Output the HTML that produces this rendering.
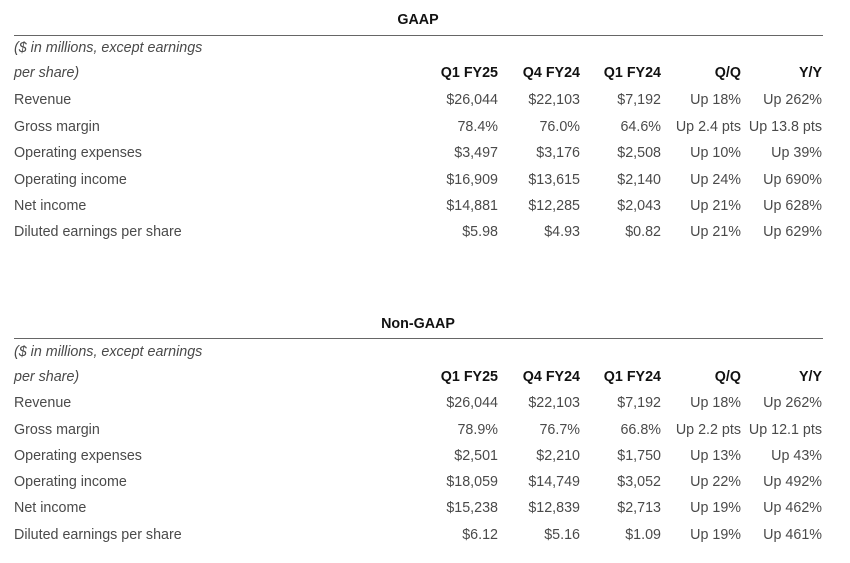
<!DOCTYPE html>
<html><head><meta charset="utf-8"><style>
body{margin:0;width:850px;height:563px;background:#fff;position:relative;font-family:"Liberation Sans",sans-serif;font-size:14.3px;color:#4a4a4a;overflow:hidden}
div{position:absolute;line-height:20px;white-space:nowrap}
.t{font-weight:bold;color:#111;left:0;width:836px;text-align:center}
.hr{left:14px;width:809px;height:0;border-top:1.5px solid #666}
.i{font-style:italic;left:14px}
.l{left:14px}
.h{font-weight:bold;color:#111}
.a{right:352px}.b{right:270px}.c{right:189px}.d{right:109px}.e{right:28px}
</style></head><body>
<div class="t" style="top:10px">GAAP</div>
<div class="hr" style="top:35px"></div>
<div class="i" style="top:38px">($ in millions, except earnings</div>
<div class="i" style="top:63px">per share)</div>
<div class="h a" style="top:63px">Q1 FY25</div><div class="h b" style="top:63px">Q4 FY24</div><div class="h c" style="top:63px">Q1 FY24</div><div class="h d" style="top:63px">Q/Q</div><div class="h e" style="top:63px">Y/Y</div>

<div class="l" style="top:90px">Revenue</div><div class="a" style="top:90px">$26,044</div><div class="b" style="top:90px">$22,103</div><div class="c" style="top:90px">$7,192</div><div class="d" style="top:90px">Up 18%</div><div class="e" style="top:90px">Up 262%</div>
<div class="l" style="top:117px">Gross margin</div><div class="a" style="top:117px">78.4%</div><div class="b" style="top:117px">76.0%</div><div class="c" style="top:117px">64.6%</div><div class="d" style="top:117px">Up 2.4 pts</div><div class="e" style="top:117px">Up 13.8 pts</div>
<div class="l" style="top:143px">Operating expenses</div><div class="a" style="top:143px">$3,497</div><div class="b" style="top:143px">$3,176</div><div class="c" style="top:143px">$2,508</div><div class="d" style="top:143px">Up 10%</div><div class="e" style="top:143px">Up 39%</div>
<div class="l" style="top:170px">Operating income</div><div class="a" style="top:170px">$16,909</div><div class="b" style="top:170px">$13,615</div><div class="c" style="top:170px">$2,140</div><div class="d" style="top:170px">Up 24%</div><div class="e" style="top:170px">Up 690%</div>
<div class="l" style="top:196px">Net income</div><div class="a" style="top:196px">$14,881</div><div class="b" style="top:196px">$12,285</div><div class="c" style="top:196px">$2,043</div><div class="d" style="top:196px">Up 21%</div><div class="e" style="top:196px">Up 628%</div>
<div class="l" style="top:222px">Diluted earnings per share</div><div class="a" style="top:222px">$5.98</div><div class="b" style="top:222px">$4.93</div><div class="c" style="top:222px">$0.82</div><div class="d" style="top:222px">Up 21%</div><div class="e" style="top:222px">Up 629%</div>

<div class="t" style="top:314px">Non-GAAP</div>
<div class="hr" style="top:338px"></div>
<div class="i" style="top:342px">($ in millions, except earnings</div>
<div class="i" style="top:367px">per share)</div>
<div class="h a" style="top:367px">Q1 FY25</div><div class="h b" style="top:367px">Q4 FY24</div><div class="h c" style="top:367px">Q1 FY24</div><div class="h d" style="top:367px">Q/Q</div><div class="h e" style="top:367px">Y/Y</div>

<div class="l" style="top:393px">Revenue</div><div class="a" style="top:393px">$26,044</div><div class="b" style="top:393px">$22,103</div><div class="c" style="top:393px">$7,192</div><div class="d" style="top:393px">Up 18%</div><div class="e" style="top:393px">Up 262%</div>
<div class="l" style="top:420px">Gross margin</div><div class="a" style="top:420px">78.9%</div><div class="b" style="top:420px">76.7%</div><div class="c" style="top:420px">66.8%</div><div class="d" style="top:420px">Up 2.2 pts</div><div class="e" style="top:420px">Up 12.1 pts</div>
<div class="l" style="top:446px">Operating expenses</div><div class="a" style="top:446px">$2,501</div><div class="b" style="top:446px">$2,210</div><div class="c" style="top:446px">$1,750</div><div class="d" style="top:446px">Up 13%</div><div class="e" style="top:446px">Up 43%</div>
<div class="l" style="top:472px">Operating income</div><div class="a" style="top:472px">$18,059</div><div class="b" style="top:472px">$14,749</div><div class="c" style="top:472px">$3,052</div><div class="d" style="top:472px">Up 22%</div><div class="e" style="top:472px">Up 492%</div>
<div class="l" style="top:498px">Net income</div><div class="a" style="top:498px">$15,238</div><div class="b" style="top:498px">$12,839</div><div class="c" style="top:498px">$2,713</div><div class="d" style="top:498px">Up 19%</div><div class="e" style="top:498px">Up 462%</div>
<div class="l" style="top:525px">Diluted earnings per share</div><div class="a" style="top:525px">$6.12</div><div class="b" style="top:525px">$5.16</div><div class="c" style="top:525px">$1.09</div><div class="d" style="top:525px">Up 19%</div><div class="e" style="top:525px">Up 461%</div>
</body></html>
